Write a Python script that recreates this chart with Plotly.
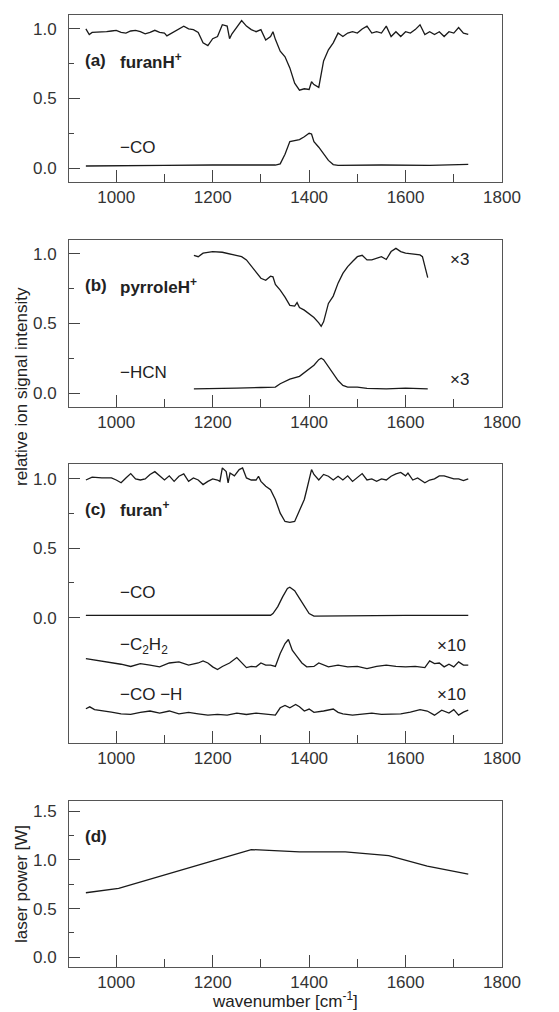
import plotly.graph_objects as go

# (a) furanH+ parent and -CO fragment
a_wn = [937, 944, 950, 960, 970, 980, 990, 1000, 1010, 1020, 1030, 1040, 1050, 1060, 1070,
        1080, 1090, 1100, 1105, 1110, 1120, 1130, 1140, 1150, 1160, 1170, 1180, 1190, 1200,
        1210, 1220, 1230, 1235, 1240, 1250, 1260, 1270, 1280, 1290, 1300, 1310, 1320, 1325,
        1330, 1340, 1350, 1360, 1370, 1380, 1390, 1400, 1405, 1410, 1420, 1430, 1440, 1450,
        1460, 1470, 1480, 1490, 1500, 1510, 1520, 1530, 1540, 1550, 1560, 1570, 1580, 1590,
        1600, 1610, 1620, 1630, 1640, 1650, 1660, 1670, 1680, 1690, 1700, 1710, 1720, 1730]
a_parent = [1.00, 0.96, 0.975, 0.975, 0.975, 0.98, 0.985, 0.99, 0.975, 0.97, 0.985, 0.99, 0.98,
            0.965, 0.975, 0.99, 0.975, 0.97, 0.95, 0.96, 0.98, 0.995, 1.02, 1.00, 0.995, 0.975,
            0.90, 0.88, 0.93, 0.945, 1.03, 1.02, 0.93, 0.965, 1.01, 1.06, 1.02, 0.995, 0.98,
            0.995, 0.92, 0.945, 0.98, 0.925, 0.84, 0.80, 0.72, 0.61, 0.56, 0.57, 0.565, 0.62,
            0.60, 0.58, 0.77, 0.85, 0.90, 0.97, 0.945, 0.97, 0.98, 0.97, 1.00, 1.02, 0.97, 0.98,
            0.97, 1.02, 0.945, 0.98, 0.945, 0.98, 0.97, 0.995, 1.03, 0.96, 0.98, 0.96, 0.98,
            0.945, 0.98, 0.97, 1.01, 0.97, 0.96]
a_co_wn = [937, 1000, 1100, 1200, 1300, 1330, 1340, 1350, 1360, 1370, 1380, 1390, 1400, 1405,
           1410, 1420, 1430, 1440, 1450, 1460, 1550, 1650, 1730]
a_co = [0.015, 0.018, 0.02, 0.022, 0.02, 0.022, 0.03, 0.10, 0.19, 0.20, 0.205, 0.225, 0.25,
        0.245, 0.19, 0.15, 0.10, 0.055, 0.025, 0.02, 0.022, 0.02, 0.027]

# (b) pyrroleH+ parent and -HCN fragment (x3)
b_wn = [1161, 1170, 1180, 1200, 1220, 1240, 1260, 1270, 1280, 1290, 1300, 1310, 1320, 1325,
        1330, 1340, 1350, 1360, 1370, 1375, 1380, 1390, 1400, 1410, 1420, 1425, 1430, 1440,
        1450, 1460, 1470, 1480, 1490, 1500, 1510, 1520, 1530, 1540, 1550, 1560, 1570, 1580,
        1590, 1600, 1610, 1620, 1630, 1635, 1646]
b_parent = [0.99, 0.98, 1.005, 1.017, 1.012, 0.998, 0.98, 0.957, 0.913, 0.87, 0.825, 0.81,
            0.84, 0.835, 0.78, 0.74, 0.69, 0.63, 0.625, 0.65, 0.615, 0.596, 0.567, 0.543,
            0.505, 0.48, 0.512, 0.644, 0.697, 0.79, 0.86, 0.909, 0.945, 0.98, 0.99, 0.957,
            0.957, 0.97, 0.98, 0.96, 1.017, 1.04, 1.017, 1.005, 1.0, 0.993, 0.993, 0.98, 0.83]
b_hcn_wn = [1161, 1200, 1250, 1300, 1330, 1340, 1360, 1380, 1400, 1410, 1420, 1425, 1430, 1440,
            1450, 1460, 1470, 1480, 1500, 1520, 1560, 1600, 1646]
b_hcn = [0.03, 0.03, 0.035, 0.04, 0.043, 0.067, 0.10, 0.12, 0.17, 0.20, 0.24, 0.25, 0.24, 0.19,
         0.14, 0.09, 0.055, 0.043, 0.043, 0.034, 0.03, 0.035, 0.03]

# (c) furan+ parent and fragments (-C2H2 and -CO-H x10, offset)
c_wn = [937, 950, 970, 990, 1000, 1010, 1020, 1030, 1040, 1050, 1060, 1070, 1080, 1090, 1100,
        1110, 1120, 1130, 1140, 1150, 1160, 1170, 1180, 1190, 1200, 1210, 1215, 1220, 1228,
        1232, 1236, 1245, 1255, 1262, 1270, 1280, 1290, 1295, 1300, 1310, 1320, 1330, 1340,
        1350, 1360, 1370, 1380, 1390, 1395, 1405, 1410, 1420, 1430, 1440, 1450, 1460, 1470,
        1480, 1490, 1500, 1510, 1520, 1530, 1540, 1550, 1560, 1570, 1580, 1590, 1600, 1605,
        1615, 1625, 1640, 1650, 1660, 1670, 1680, 1690, 1700, 1710, 1720, 1730]
c_parent = [0.99, 1.01, 1.005, 1.005, 0.99, 0.97, 1.005, 1.036, 0.998, 0.99, 0.998, 1.03, 1.05,
            1.017, 0.99, 1.02, 0.98, 1.017, 1.034, 0.98, 1.005, 0.99, 0.957, 0.98, 0.998, 0.99,
            0.98, 1.077, 1.05, 0.97, 1.04, 1.02, 1.065, 1.077, 1.005, 0.99, 0.99, 1.017, 0.98,
            0.945, 0.92, 0.85, 0.752, 0.692, 0.685, 0.692, 0.776, 0.85, 0.92, 1.065, 1.03, 0.99,
            1.03, 1.017, 0.99, 1.017, 0.99, 1.02, 0.98, 1.005, 1.036, 0.99, 0.998, 0.98, 0.998,
            0.99, 1.017, 1.034, 1.045, 1.02, 1.04, 0.99, 1.005, 0.97, 0.99, 0.998, 1.02, 1.02,
            1.01, 0.998, 0.998, 0.986, 0.998]
c_co_wn = [937, 1000, 1100, 1200, 1300, 1320, 1325, 1335, 1345, 1355, 1360, 1370, 1380, 1390,
           1400, 1410, 1500, 1600, 1730]
c_co = [0.017, 0.017, 0.018, 0.016, 0.017, 0.018, 0.03, 0.08, 0.15, 0.21, 0.22, 0.195, 0.14,
        0.08, 0.03, 0.012, 0.015, 0.017, 0.017]
c_c2h2_wn = [937, 950, 970, 990, 1010, 1030, 1050, 1070, 1090, 1110, 1130, 1150, 1170, 1180,
             1190, 1200, 1210, 1220, 1235, 1250, 1260, 1270, 1280, 1290, 1300, 1310, 1320,
             1330, 1340, 1350, 1357, 1365, 1375, 1385, 1395, 1410, 1420, 1440, 1460, 1480,
             1500, 1520, 1540, 1560, 1580, 1600, 1620, 1640, 1650, 1660, 1670, 1680, 1690,
             1700, 1710, 1720, 1730]
c_c2h2 = [-0.293, -0.30, -0.31, -0.325, -0.334, -0.35, -0.33, -0.34, -0.353, -0.325, -0.317,
          -0.34, -0.325, -0.31, -0.325, -0.353, -0.372, -0.35, -0.325, -0.286, -0.325, -0.358,
          -0.35, -0.353, -0.325, -0.34, -0.34, -0.35, -0.257, -0.185, -0.156, -0.233, -0.28,
          -0.325, -0.353, -0.35, -0.325, -0.353, -0.34, -0.353, -0.35, -0.365, -0.35, -0.34,
          -0.35, -0.353, -0.35, -0.358, -0.31, -0.33, -0.325, -0.353, -0.334, -0.353, -0.317,
          -0.34, -0.34]
c_coh_wn = [937, 945, 955, 970, 990, 1010, 1030, 1050, 1070, 1090, 1110, 1130, 1150, 1170,
            1190, 1210, 1230, 1250, 1270, 1290, 1310, 1330, 1340, 1350, 1360, 1372, 1380,
            1390, 1400, 1410, 1430, 1450, 1460, 1470, 1490, 1510, 1530, 1550, 1570, 1590,
            1610, 1630, 1645, 1660, 1675, 1690, 1700, 1710, 1720, 1730]
c_coh = [-0.654, -0.64, -0.66, -0.67, -0.678, -0.69, -0.695, -0.68, -0.67, -0.685, -0.67,
         -0.69, -0.68, -0.69, -0.70, -0.695, -0.70, -0.685, -0.695, -0.685, -0.69, -0.70,
         -0.647, -0.63, -0.647, -0.623, -0.64, -0.67, -0.656, -0.68, -0.67, -0.656, -0.68,
         -0.69, -0.70, -0.69, -0.685, -0.695, -0.695, -0.69, -0.678, -0.66, -0.67, -0.70,
         -0.664, -0.685, -0.66, -0.70, -0.678, -0.664]

# (d) laser power
d_wn = [937, 1005, 1200, 1280, 1380, 1475, 1565, 1645, 1730]
d_power = [0.663, 0.707, 0.99, 1.107, 1.083, 1.083, 1.045, 0.936, 0.854]

FONT = "Liberation Sans, Arial, sans-serif"
LINE = dict(color="#1a1a1a", width=1.3)
TXT = 17

fig = go.Figure()
series = [
    (a_wn, a_parent, "x", "y"), (a_co_wn, a_co, "x", "y"),
    (b_wn, b_parent, "x2", "y2"), (b_hcn_wn, b_hcn, "x2", "y2"),
    (c_wn, c_parent, "x3", "y3"), (c_co_wn, c_co, "x3", "y3"),
    (c_c2h2_wn, c_c2h2, "x3", "y3"), (c_coh_wn, c_coh, "x3", "y3"),
    (d_wn, d_power, "x4", "y4"),
]
for xs, ys, xa, ya in series:
    fig.add_trace(go.Scatter(x=xs, y=ys, mode="lines", line=LINE, xaxis=xa, yaxis=ya,
                             showlegend=False, hoverinfo="skip"))

# page body adds an 8px margin, so the figure is 8px smaller than the window
PAD = 8
W, H = 559 - PAD, 1012 - PAD
H_TOP, H_BOT = 15, 967  # plot-box top/bottom in window pixels
def dom(top, bot):
    return [(H_BOT - bot) / (H_BOT - H_TOP), (H_BOT - top) / (H_BOT - H_TOP)]

def xax(anchor):
    return dict(range=[902, 1800], tickvals=[1000, 1200, 1400, 1600, 1800],
                ticks="inside", ticklen=12, tickcolor="#444",
                minor=dict(tickvals=[1100, 1300, 1500, 1700], ticks="inside", ticklen=8,
                           tickcolor="#444"),
                showline=True, mirror=True, linecolor="#555", linewidth=1,
                showgrid=False, zeroline=False, anchor=anchor, domain=[0, 1],
                tickfont=dict(size=TXT, color="#333", family=FONT))

def yax(anchor, rng, domain, vals, minor_vals):
    return dict(range=rng, domain=domain, anchor=anchor, tickvals=vals,
                ticktext=["%.1f" % v for v in vals],
                ticks="inside", ticklen=11, tickcolor="#444", ticklabelstandoff=8,
                minor=dict(tickvals=minor_vals, ticks="inside", ticklen=5, tickcolor="#444"),
                showline=True, mirror=True, linecolor="#555", linewidth=1,
                showgrid=False, zeroline=False,
                tickfont=dict(size=TXT, color="#333", family=FONT))

fig.update_layout(
    width=W, height=H,
    margin=dict(l=69 - PAD, r=57, t=H_TOP - PAD, b=1012 - H_BOT),
    paper_bgcolor="white", plot_bgcolor="white",
    font=dict(family=FONT, size=TXT, color="#222"),
    xaxis=xax("y"), xaxis2=xax("y2"), xaxis3=xax("y3"), xaxis4=xax("y4"),
    yaxis=yax("x", [-0.1, 1.1], dom(15, 182), [0, 0.5, 1.0], [0.25, 0.75]),
    yaxis2=yax("x2", [-0.1, 1.1], dom(240, 407), [0, 0.5, 1.0], [0.25, 0.75]),
    yaxis3=yax("x3", [-0.9, 1.105], dom(464, 743), [0, 0.5, 1.0], [0.25, 0.75]),
    yaxis4=yax("x4", [-0.1, 1.606], dom(801, 967), [0, 0.5, 1.0, 1.5], [0.25, 0.75, 1.25]),
)

def label(text, x, y, ax, bold=False, anchor="left"):
    fig.add_annotation(text="<b>%s</b>" % text if bold else text, x=x, y=y,
                       xref=ax[0], yref=ax[1], xanchor=anchor, yanchor="middle",
                       showarrow=False, font=dict(size=TXT, color="#222", family=FONT))

label("(a)", 930, 0.77, ("x", "y"), bold=True)
label("furanH<sup>+</sup>", 1003, 0.77, ("x", "y"), bold=True)
label("−CO", 1003, 0.15, ("x", "y"))
label("(b)", 930, 0.77, ("x2", "y2"), bold=True)
label("pyrroleH<sup>+</sup>", 1003, 0.77, ("x2", "y2"), bold=True)
label("−HCN", 1003, 0.15, ("x2", "y2"))
label("×3", 1688, 0.96, ("x2", "y2"))
label("×3", 1688, 0.10, ("x2", "y2"))
label("(c)", 930, 0.78, ("x3", "y3"), bold=True)
label("furan<sup>+</sup>", 1003, 0.78, ("x3", "y3"), bold=True)
label("−CO", 1003, 0.18, ("x3", "y3"))
label("−C<sub>2</sub>H<sub>2</sub>", 1003, -0.20, ("x3", "y3"))
label("×10", 1730, -0.20, ("x3", "y3"), anchor="right")
label("−CO −H", 1003, -0.55, ("x3", "y3"))
label("×10", 1730, -0.55, ("x3", "y3"), anchor="right")
label("(d)", 930, 1.244, ("x4", "y4"), bold=True)

# axis titles, placed in window pixels
plot_w, plot_h = 502 - 69, H_BOT - H_TOP
def title(text, px, py, angle=0):
    fig.add_annotation(text=text, xref="paper", yref="paper",
                       x=(px - 69) / plot_w, y=(H_BOT - py) / plot_h, textangle=angle,
                       showarrow=False, xanchor="center", yanchor="middle",
                       font=dict(size=TXT, color="#222", family=FONT))

title("relative ion signal intensity", 21, 387, -90)
title("laser power [W]", 21, 884, -90)
title("wavenumber [cm<sup>-1</sup>]", 285, 1000)

fig.write_html("out.html")
